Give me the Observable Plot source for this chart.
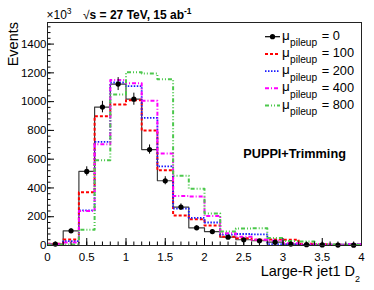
<!DOCTYPE html>
<html><head><meta charset="utf-8">
<script src="https://cdn.jsdelivr.net/npm/d3@7"></script>
<script src="https://cdn.jsdelivr.net/npm/@observablehq/plot@0.6"></script>
<style>
body{margin:0;background:#fff;}
#wrap{position:relative;width:374px;height:290px;}
svg{font-family:"Liberation Sans",Arial,Helvetica,sans-serif;}
</style></head><body><div id="wrap"></div>
<script>
// ---- data (values in units of 10^3 events) ----
const binLow = [0,0.2,0.4,0.6,0.8,1.0,1.2,1.4,1.6,1.8,2.0,2.2,2.4,2.6,2.8,3.0,3.2,3.4,3.6,3.8];
const binWidth = 0.2;
const mu0    = [10,102,515,962,1122,1017,667,450,267,123,97,58,40,33,23,10,6,4,3,2];
const mu0Err = [3,14,32,40,45,42,32,28,22,14,13,9,8,7,6,4,3,3,2,2];
const mu100  = [12,42,370,899,980,1010,799,523,209,182,139,60,50,40,42,40,12,8,5,6];
const mu200  = [6,30,244,720,1133,1108,887,550,256,192,160,75,80,78,10,8,6,5,6,10];
const mu400  = [8,21,240,704,1150,1128,1006,639,344,340,205,85,60,40,35,15,10,8,6,8];
const mu800  = [5,7,110,592,1050,1204,1196,1155,485,395,223,98,118,120,52,32,28,10,7,5];
const legendLabels = ["0","100","200","400","800"];
const xTickLabels = [0,0.5,1,1.5,2,2.5,3,3.5,4];
const yTickLabels = [0,200,400,600,800,1000,1200,1400];
const xMinor = d3.range(0.1, 4, 0.1);
const yMinor = d3.range(40, 1550, 40);

const series = [mu0, mu100, mu200, mu400, mu800];
const styles = [
  {stroke:"#3c3c3c", strokeWidth:1.2, dash:null},
  {stroke:"#ff0000", strokeWidth:2, dash:"3,2"},
  {stroke:"#1a1aff", strokeWidth:1.8, dash:"1.5,1.5"},
  {stroke:"#ff00ff", strokeWidth:2, dash:"4,2,1,2"},
  {stroke:"#4cc84c", strokeWidth:2, dash:"4,2,1,2,1,2"}
];

const steps = vals => vals.flatMap((v,i)=>[{x:binLow[i], y:v},{x:binLow[i]+binWidth, y:v}]);
const points = mu0.map((v,i)=>({x:binLow[i]+binWidth/2, y:v, e:mu0Err[i]}));

const W=374, H=290, mL=47, mR=13, mT=22, mB=45;
const pw = W-mL-mR, ph = H-mT-mB;

const marks = [];
series.forEach((s,k)=>{
  const st = styles[k];
  marks.push(Plot.line(steps(s), {x:"x", y:"y", stroke:st.stroke, strokeWidth:st.strokeWidth, strokeDasharray:st.dash, strokeLinecap:"butt"}));
});
marks.push(Plot.ruleX(points, {x:"x", y1:d=>d.y-d.e, y2:d=>d.y+d.e, stroke:"#000", strokeWidth:1}));
marks.push(Plot.dot(points, {x:"x", y:"y", r:2.6, fill:"#000"}));
// ticks (inward, ROOT style)
marks.push(Plot.tickY(yTickLabels, {y:d=>d, insetRight:pw-7, stroke:"#000"}));
marks.push(Plot.tickY(yMinor, {y:d=>d, insetRight:pw-3.5, stroke:"#000"}));
marks.push(Plot.tickX(xTickLabels, {x:d=>d, insetTop:ph-7, stroke:"#000"}));
marks.push(Plot.tickX(xMinor, {x:d=>d, insetTop:ph-3.5, stroke:"#000"}));
marks.push(Plot.axisY(yTickLabels, {tickSize:0, tickPadding:1, fontSize:11.5, tickFormat:d=>String(d), label:null}));
marks.push(Plot.axisX(xTickLabels, {tickSize:0, tickPadding:7, fontSize:11.5, tickFormat:d=>String(d), label:null}));
marks.push(Plot.frame({stroke:"#222", strokeWidth:1}));

const chart = Plot.plot({
  width:W, height:H, marginLeft:mL, marginRight:mR, marginTop:mT, marginBottom:mB,
  x:{domain:[0,4]}, y:{domain:[0,1550]},
  style:{fontFamily:"Liberation Sans, Arial, Helvetica, sans-serif", fontSize:"11.5px", color:"#000", background:"#fff"},
  marks
});
document.getElementById("wrap").appendChild(chart);

// ---- annotations ----
const svg = d3.select(chart);
const ann = svg.append("g").attr("font-family","Liberation Sans, Arial, Helvetica, sans-serif")
  .attr("fill","#000").attr("text-anchor","start");
function addText(x, y, parts, attrs={}) {
  const t = ann.append("text").attr("x",x).attr("y",y).attr("text-anchor","start");
  for (const [k,v] of Object.entries(attrs)) t.attr(k,v);
  for (const p of parts) {
    const s = t.append("tspan").text(p.t);
    if (p.size) s.attr("font-size", p.size);
    if (p.weight) s.attr("font-weight", p.weight);
    if (p.dy) s.attr("dy", p.dy);
    if (p.dx) s.attr("dx", p.dx);
  }
  return t;
}
// title
addText(83, 19.3, [{t:"√", size:12}, {t:"s = 27 TeV, 15 ab", size:12, weight:"bold"}, {t:"-1", size:8.5, weight:"bold", dy:-5}]);
// x10^3
addText(46.5, 19, [{t:"×10", size:12}, {t:"3", size:8.5, dy:-5}]);
// y title
addText(0, 0, [{t:"Events", size:14.5}], {transform:"translate(18,22) rotate(-90)", "text-anchor":"end"});
// x title
addText(360, 276, [{t:"Large-R jet1 D", size:14.5}, {t:"2", size:9, dy:6}], {"text-anchor":"end"});
// label
addText(243.3, 158.3, [{t:"PUPPI+Trimming", size:12.7, weight:"bold"}]);
// legend
const rowY = [36.7, 53.9, 71.1, 88.3, 105.5];
legendLabels.forEach((lab,k)=>{
  const y = rowY[k], st = styles[k];
  ann.append("line").attr("x1",265).attr("x2",280).attr("y1",y).attr("y2",y)
    .attr("stroke", k===0 ? "#000" : st.stroke).attr("stroke-width", st.strokeWidth)
    .attr("stroke-dasharray", st.dash);
  if (k===0) ann.append("circle").attr("cx",272.5).attr("cy",y).attr("r",2.6).attr("fill","#000");
  addText(282, y+3, [{t:"μ", size:13.5}]);
  addText(290, y+9.5, [{t:"pileup", size:10.2}]);
  addText(321.7, y+3.5, [{t:"= "+lab, size:12.8}]);
});
</script></body></html>
